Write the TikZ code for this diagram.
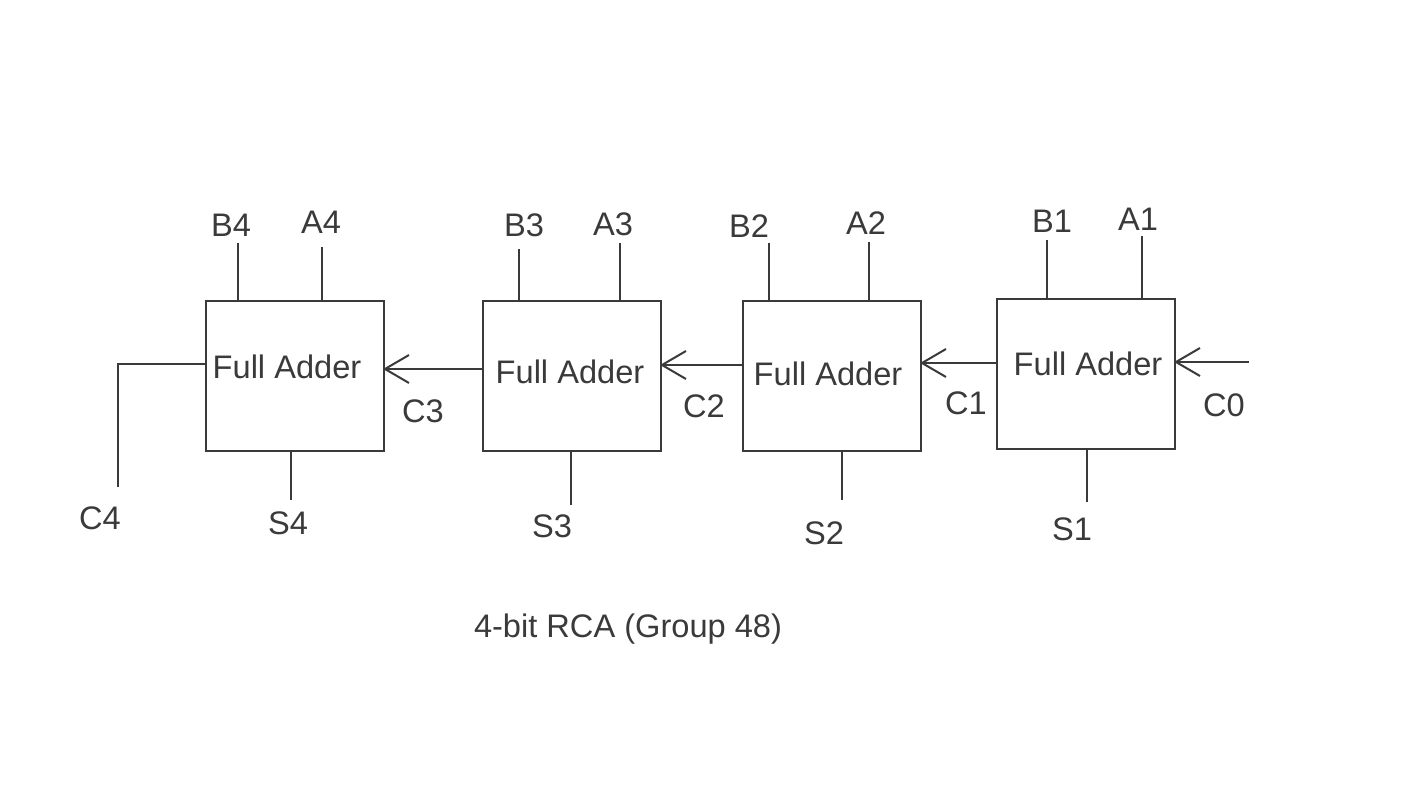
\documentclass[tikz,border=0pt]{standalone}
\usepackage{fontspec}
\setmainfont{Liberation Sans}
\usetikzlibrary{arrows.meta}
\definecolor{ink}{HTML}{3A3A3A}
\begin{document}
\begin{tikzpicture}[x=1pt,y=-1pt,
  every node/.style={text=ink,font=\fontsize{32.6}{38}\selectfont,inner sep=0pt},
  fabox/.style={draw=ink,line width=2pt,minimum width=178pt,minimum height=150pt,anchor=north west},
  wire/.style={draw=ink,line width=2pt},
  carry/.style={wire,-{Straight Barb[length=24pt,width=28pt,line width=2pt]},shorten >=-2pt}]
\useasboundingbox (0,0) rectangle (1422,800);
% four full adders, most significant on the left
\node[fabox] (fa4) at (205,300) {};
\node[fabox] (fa3) at (482,300) {};
\node[fabox] (fa2) at (742,300) {};
\node[fabox] (fa1) at (996,298) {};
\node (t4) at (287,367) {Full Adder};
\node (t3) at (570,372) {Full Adder};
\node (t2) at (828,374) {Full Adder};
\node (t1) at (1088,364) {Full Adder};
% operand inputs
\node (b4) at (231,225) {B4};  \node (a4) at (321,222) {A4};
\node (b3) at (524,225) {B3};  \node (a3) at (613,224) {A3};
\node (b2) at (749,226) {B2};  \node (a2) at (866,223) {A2};
\node (b1) at (1052,221) {B1}; \node (a1) at (1138,219) {A1};
\coordinate (b4t) at (238,243); \coordinate (a4t) at (322,247);
\coordinate (b3t) at (519,249); \coordinate (a3t) at (620,243);
\coordinate (b2t) at (769,243); \coordinate (a2t) at (869,242);
\coordinate (b1t) at (1047,240); \coordinate (a1t) at (1142,236);
\foreach \p/\f in {b4t/fa4,a4t/fa4,b3t/fa3,a3t/fa3,b2t/fa2,a2t/fa2,b1t/fa1,a1t/fa1}
  \draw[wire] (\p) -- (\p |- \f.north);
% sum outputs
\node (s4) at (288,523) {S4};
\node (s3) at (552,526) {S3};
\node (s2) at (824,533) {S2};
\node (s1) at (1072,529) {S1};
\coordinate (s4e) at (291,500); \coordinate (s3e) at (571,505);
\coordinate (s2e) at (842,500); \coordinate (s1e) at (1087,502);
\foreach \p/\f in {s4e/fa4,s3e/fa3,s2e/fa2,s1e/fa1}
  \draw[wire] (\f.south -| \p) -- (\p);
% carry chain
\coordinate (c0s) at (1249,362);
\draw[carry] (c0s) -- (c0s -| fa1.east);
\draw[carry] (fa1.west |- 0,363) -- (fa2.east |- 0,363);
\draw[carry] (fa2.west |- 0,365) -- (fa3.east |- 0,365);
\draw[carry] (fa3.west |- 0,369) -- (fa4.east |- 0,369);
\coordinate (c4e) at (118,487);
\draw[wire] (fa4.west |- 0,364) -- (c4e |- 0,364) -- (c4e);
\node (c0) at (1224,405) {C0};
\node (c1) at (966,403) {C1};
\node (c2) at (704,406) {C2};
\node (c3) at (423,411) {C3};
\node (c4) at (100,518) {C4};
% caption
\node (cap) at (628,629) {4-bit RCA (Group 48)};
\end{tikzpicture}
\end{document}
